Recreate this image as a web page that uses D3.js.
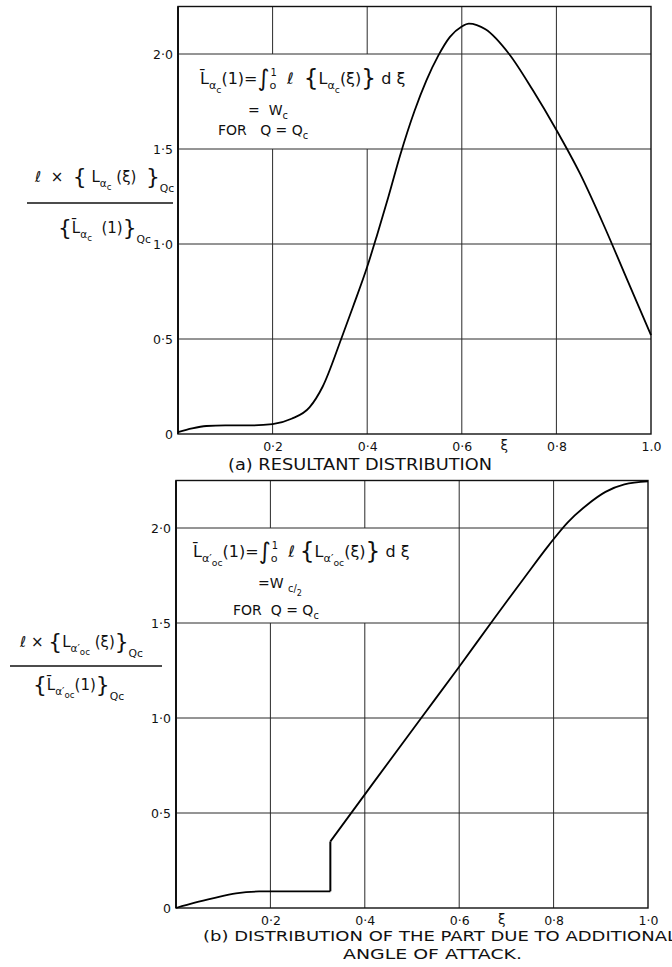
<!DOCTYPE html>
<html>
<head>
<meta charset="utf-8">
<script src="https://cdn.jsdelivr.net/npm/d3@7"></script>
<style>
  body { margin: 0; background: #fff; }
  svg { display: block; }
  text { font-family: 'DejaVu Sans', sans-serif; fill: #111; white-space: pre; }
</style>
</head>
<body>
<div id="chart"></div>
<script>
// ---- values ----
const xTickValues = [0.2, 0.4, 0.6, 0.8, 1.0];
const xTickLabelsA = ['0·2', '0·4', '0·6', '0·8', '1.0'];
const xTickLabelsB = ['0·2', '0·4', '0·6', '0·8', '1·0'];
const yTickValues = [0, 0.5, 1.0, 1.5, 2.0];
const yTickLabels = ['0', '0·5', '1·0', '1·5', '2·0'];
const gridYValues = [0.5, 1.0, 1.5, 2.0];

// (a) resultant distribution
const resultantXi = [0, 0.03, 0.06, 0.1, 0.15, 0.2, 0.24, 0.278, 0.306, 0.345, 0.37, 0.4, 0.42,
  0.445, 0.47, 0.5, 0.525, 0.55, 0.575, 0.6, 0.615, 0.65, 0.7, 0.75, 0.8, 0.85, 0.9, 0.95, 1.0];
const resultantVal = [0.01, 0.03, 0.042, 0.045, 0.045, 0.052, 0.08, 0.14, 0.25, 0.5, 0.67, 0.88, 1.04,
  1.25, 1.47, 1.7, 1.86, 1.99, 2.09, 2.145, 2.16, 2.13, 2.0, 1.81, 1.6, 1.37, 1.1, 0.81, 0.52];

// (b) part due to additional angle of attack: inboard piece, then the piece after the jump
const partInXi = [0, 0.04, 0.08, 0.127, 0.176, 0.25, 0.327];
const partInVal = [0, 0.028, 0.052, 0.077, 0.087, 0.088, 0.088];
const partOutXi = [0.327, 0.42, 0.518, 0.6, 0.673, 0.74, 0.79, 0.83, 0.87, 0.91, 0.95, 1.0];
const partOutVal = [0.35, 0.665, 0.995, 1.27, 1.52, 1.745, 1.91, 2.03, 2.12, 2.19, 2.23, 2.245];

// ---- layout ----
const WIDTH = 672;
const HEIGHT = 967;
const Y_MAX = 2.25;
const PX_PER_UNIT = 190;
const GAP_X = 0.6;           // vertical grid lines left out behind the formula box
const GAP_Y = [1.5, 2.0];

const svg = d3.select('#chart').append('svg')
  .attr('width', WIDTH)
  .attr('height', HEIGHT);
svg.append('rect').attr('width', WIDTH).attr('height', HEIGHT).attr('fill', '#fff');

// text with sub/superscripts, each part = [text, level, dx]
const LEVELS = {
  n: { shift: 0, size: 1 },
  sub: { shift: 0.3, size: 0.7 },
  ss: { shift: 0.55, size: 0.58 },
  sup: { shift: -0.5, size: 0.62 },
  big: { shift: 0.12, size: 1.45 },
  q: { shift: 0.65, size: 0.72 },
};

function mathText(g, x, y, parts, size, anchor) {
  const t = g.append('text')
    .attr('x', x)
    .attr('y', y)
    .attr('font-size', size)
    .attr('text-anchor', anchor || 'start');
  let prev = 0;
  parts.forEach(([s, lvl = 'n', dx]) => {
    const L = LEVELS[lvl];
    const shift = L.shift * size;
    const ts = t.append('tspan')
      .attr('dy', shift - prev)
      .attr('font-size', L.size * size)
      .text(s);
    if (dx) ts.attr('dx', dx);
    prev = shift;
  });
  return t;
}

function drawPanel(cfg) {
  const x = d3.scaleLinear().domain([0, 1]).range([cfg.left, cfg.right]);
  const y = d3.scaleLinear().domain([0, Y_MAX]).range([cfg.bottom, cfg.bottom - Y_MAX * PX_PER_UNIT]);
  const g = svg.append('g').attr('class', `panel-${cfg.key}`);

  // horizontal grid
  g.selectAll('.grid-y')
    .data(gridYValues)
    .join('line')
    .attr('class', 'grid-y')
    .attr('x1', x(0)).attr('x2', x(1))
    .attr('y1', (d) => y(d)).attr('y2', (d) => y(d))
    .attr('stroke', '#2a2a2a')
    .attr('stroke-width', 1);

  // vertical grid, broken behind the formula
  const segs = [];
  xTickValues.slice(0, 4).forEach((v) => {
    if (v < GAP_X) {
      segs.push([v, 0, GAP_Y[0]]);
      segs.push([v, GAP_Y[1], Y_MAX]);
    } else {
      segs.push([v, 0, Y_MAX]);
    }
  });
  g.selectAll('.grid-x')
    .data(segs)
    .join('line')
    .attr('class', 'grid-x')
    .attr('x1', (d) => x(d[0])).attr('x2', (d) => x(d[0]))
    .attr('y1', (d) => y(d[1])).attr('y2', (d) => y(d[2]))
    .attr('stroke', '#2a2a2a')
    .attr('stroke-width', 1);

  // frame
  g.append('rect')
    .attr('x', x(0)).attr('y', y(Y_MAX))
    .attr('width', x(1) - x(0)).attr('height', y(0) - y(Y_MAX))
    .attr('fill', 'none')
    .attr('stroke', '#111')
    .attr('stroke-width', 1.4);
  g.append('line')
    .attr('x1', x(0)).attr('x2', x(0))
    .attr('y1', y(0)).attr('y2', y(Y_MAX))
    .attr('stroke', '#111').attr('stroke-width', 2);

  // curves
  const line = d3.line()
    .x((d) => x(d[0]))
    .y((d) => y(d[1]))
    .curve(d3.curveMonotoneX);
  cfg.series.forEach((pts) => {
    g.append('path')
      .attr('d', line(pts))
      .attr('fill', 'none')
      .attr('stroke', '#000')
      .attr('stroke-width', 1.8);
  });
  if (cfg.jump) {
    g.append('path')
      .attr('d', d3.line().x((d) => x(d[0])).y((d) => y(d[1]))(cfg.jump))
      .attr('fill', 'none')
      .attr('stroke', '#000')
      .attr('stroke-width', 2);
  }

  // axes (labels only)
  g.append('g')
    .attr('transform', `translate(0,${y(0)})`)
    .call(d3.axisBottom(x).tickValues(xTickValues).tickSize(0).tickPadding(8)
      .tickFormat((d, i) => cfg.xLabels[i]))
    .call((a) => a.select('.domain').remove())
    .call((a) => a.selectAll('text').attr('font-family', 'DejaVu Sans').attr('font-size', 12.5).attr('fill', '#111'));
  g.append('g')
    .attr('transform', `translate(${x(0)},0)`)
    .call(d3.axisLeft(y).tickValues(yTickValues).tickSize(0).tickPadding(5)
      .tickFormat((d, i) => yTickLabels[i]))
    .call((a) => a.select('.domain').remove())
    .call((a) => a.selectAll('text').attr('font-family', 'DejaVu Sans').attr('font-size', 12.5).attr('fill', '#111'));

  g.append('text')
    .attr('x', x(0.69)).attr('y', y(0) + 16)
    .attr('text-anchor', 'middle')
    .attr('font-family', 'DejaVu Serif')
    .attr('font-size', 13.5)
    .text('ξ');

  return { x, y, g };
}

const zip = (a, b) => a.map((v, i) => [v, b[i]]);

// ---- (a) ----
const pa = drawPanel({
  key: 'a', left: 178, right: 651, bottom: 434,
  xLabels: xTickLabelsA,
  series: [zip(resultantXi, resultantVal)],
});

mathText(pa.g, 200, 84, [
  ['L\u0304'], ['α', 'sub'], ['c', 'ss'], ['(1)='], ['∫', 'big'], ['o', 'sub'], ['1', 'sup', -6],
  ['  ℓ  '], ['{', 'big'], ['L'], ['α', 'sub'], ['c', 'ss'], ['(ξ)'], ['}', 'big'], [' d ξ'],
], 16);
mathText(pa.g, 248, 115, [['=  W'], ['c', 'sub']], 14);
mathText(pa.g, 218, 135, [['FOR   Q = Q'], ['c', 'sub']], 14);

// y label (a)
mathText(svg, 35, 182, [
  ['ℓ  ×  '], ['{', 'big'], [' L'], ['α', 'sub'], ['c', 'ss'], [' (ξ)  '], ['}', 'big'], ['Qc', 'q'],
], 15);
svg.append('line').attr('x1', 27).attr('x2', 173).attr('y1', 203).attr('y2', 203)
  .attr('stroke', '#111').attr('stroke-width', 1.3);
mathText(svg, 58, 233, [
  ['{', 'big'], ['L\u0304'], ['α', 'sub'], ['c', 'ss'], ['  (1)'], ['}', 'big'], ['Qc', 'q'],
], 15);

svg.append('text')
  .attr('x', 228).attr('y', 470)
  .attr('font-size', 15)
  .attr('textLength', 264)
  .attr('lengthAdjust', 'spacingAndGlyphs')
  .text('(a) RESULTANT DISTRIBUTION');

// ---- (b) ----
const pb = drawPanel({
  key: 'b', left: 176, right: 648, bottom: 908,
  xLabels: xTickLabelsB,
  series: [zip(partInXi, partInVal), zip(partOutXi, partOutVal)],
  jump: [[partInXi[partInXi.length - 1], partInVal[partInVal.length - 1]], [partOutXi[0], partOutVal[0]]],
});

mathText(pb.g, 193, 557, [
  ['L\u0304'], ['α′', 'sub'], ['oc', 'ss'], ['(1)='], ['∫', 'big'], ['o', 'sub'], ['1', 'sup', -6],
  ['  ℓ '], ['{', 'big'], ['L'], ['α′', 'sub'], ['oc', 'ss'], ['(ξ)'], ['}', 'big'], [' d ξ'],
], 16);
mathText(pb.g, 258, 588, [['=W '], ['c', 'sub'], ['/', 'sub'], ['2', 'ss']], 14);
mathText(pb.g, 233, 615, [['FOR  Q = Q'], ['c', 'sub']], 14);

// y label (b)
mathText(svg, 20, 647, [
  ['ℓ × '], ['{', 'big'], ['L'], ['α′', 'sub'], ['oc', 'ss'], [' (ξ)'], ['}', 'big'], ['Qc', 'q'],
], 15);
svg.append('line').attr('x1', 10).attr('x2', 162).attr('y1', 666).attr('y2', 666)
  .attr('stroke', '#111').attr('stroke-width', 1.3);
mathText(svg, 33, 690, [
  ['{', 'big'], ['L\u0304'], ['α′', 'sub'], ['oc', 'ss'], ['(1)'], ['}', 'big'], ['Qc', 'q'],
], 15);

svg.append('text')
  .attr('x', 203).attr('y', 941)
  .attr('font-size', 14)
  .attr('textLength', 474)
  .attr('lengthAdjust', 'spacingAndGlyphs')
  .text('(b) DISTRIBUTION OF THE PART DUE TO ADDITIONAL');
svg.append('text')
  .attr('x', 343).attr('y', 959)
  .attr('font-size', 14)
  .attr('textLength', 179)
  .attr('lengthAdjust', 'spacingAndGlyphs')
  .text('ANGLE OF ATTACK.');
</script>
</body>
</html>
